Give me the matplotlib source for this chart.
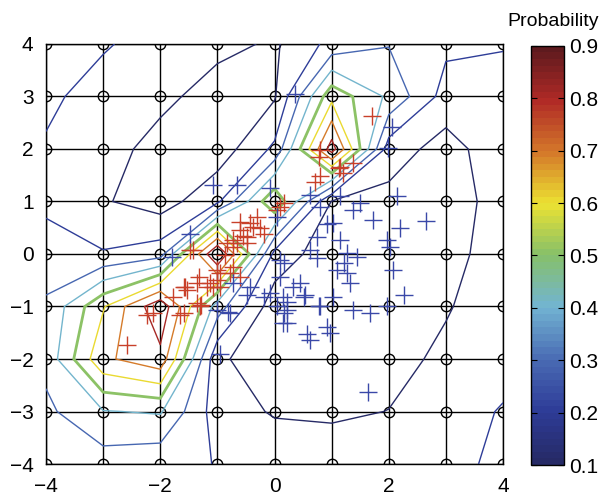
import numpy as np
import matplotlib
matplotlib.use('Agg')
import matplotlib.pyplot as plt
from matplotlib.colors import LinearSegmentedColormap, Normalize
from matplotlib.cm import ScalarMappable

plt.rcParams['font.family'] = ['Liberation Sans', 'DejaVu Sans']

# grid coordinates
grid_x = [-4, -3, -2, -1, 0, 1, 2, 3, 4]
grid_y = [4, 3, 2, 1, 0, -1, -2, -3, -4]

# probability on the grid, rows from y=4 (top) to y=-4 (bottom)
prob_y4 = [0.25, 0.21, 0.16, 0.13, 0.086, 0.23, 0.295, 0.22, 0.21]
prob_y3 = [0.22, 0.16, 0.13, 0.05, 0.09, 0.57, 0.38, 0.16, 0.14]
prob_y2 = [0.19, 0.15, 0.056, 0.04, 0.22, 0.85, 0.15, 0.059, 0.164]
prob_y1 = [0.17, 0.11, 0.05, 0.18, 0.59, 0.095, 0.07, 0.06, 0.133]
prob_y0 = [0.264, 0.208, 0.255, 0.92, 0.17, 0.03, 0.03, 0.06, 0.155]
prob_ym1 = [0.31, 0.59, 0.88, 0.35, 0.04, 0.02, 0.03, 0.09, 0.167]
prob_ym2 = [0.33, 0.68, 0.77, 0.12, 0.03, 0.03, 0.06, 0.125, 0.15]
prob_ym3 = [0.277, 0.395, 0.41, 0.15, 0.09, 0.08, 0.102, 0.14, 0.21]
prob_ym4 = [0.24, 0.25, 0.227, 0.197, 0.17, 0.17, 0.15, 0.16, 0.23]

levels = [0.1, 0.2, 0.3, 0.4, 0.5, 0.6, 0.7, 0.8]
cbar_ticks = [0.1, 0.2, 0.3, 0.4, 0.5, 0.6, 0.7, 0.8, 0.9]
x_ticks = [-4, -2, 0, 2, 4]
y_ticks = [-4, -3, -2, -1, 0, 1, 2, 3, 4]

red_x = [-2.59, -2.24, -2.12, -1.65, -1.59, -1.77, -1.54, -1.3, -1.28, -1.07, -1.01, -0.72,
         -0.6, -0.49, -1.42, -0.83, -0.72, -0.78, -0.95, -1.18, -1.59, -1.36, -1.48, -1.33,
         -1.57, -1.36, -1.01, -0.86, -0.66, -0.6, -0.43, -0.31, -0.19, -0.48, -0.37, -0.72,
         -0.95, -1.13, 0.1, 0.16, 0.04, 0.8, 1.15, 1.38, 1.7, 0.8, 1.12, 0.71, 0.77, 1.2,
         -0.6, -0.55, -0.25]
red_y = [-1.74, -1.16, -1.13, -1.16, -1.13, -0.81, -0.69, -1.0, -0.97, -0.62, -0.3, -0.24,
         -0.43, 0.33, 0.08, 0.2, 0.27, -0.37, -0.62, -0.62, -0.62, -0.56, 0.08, -0.43,
         -0.62, -0.94, -0.5, -0.01, 0.2, 0.46, 0.59, 0.71, 0.39, 0.2, 0.52, 0.14,
         -0.37, -0.56, 0.9, 0.97, 0.84, 1.48, 1.66, 1.73, 2.62, 1.98, 1.63, 1.38, 1.85, 1.54,
         0.6, 0.35, 0.5]

blue_x = [0.36, 2.05, 1.99, -1.07, -0.66, -0.08, -1.48, -1.8, 0.62, 0.8, 1.15, 1.03, 0.74,
          0.62, 1.15, 1.27, 1.21, 1.44, 1.38, 1.5, 1.73, 2.14, 2.66, 2.2, 2.02, 2.08, 2.26,
          1.27, 1.32, 0.16, 0.1, 0.33, 0.51, 0.16, 0.04, 0.22, 0.57, 0.92, 1.03, 0.8, 1.38,
          1.67, -0.43, -0.78, -0.72, -0.95, 1.64, 0.04, 0.92, 1.97, 0.74, 1.09, 0.45, -0.08,
          0.21, 0.53, 0.77, 1.97, 0.62, 0.97, -0.49, -0.19, 0.1, 0.15, 0.21, 0.15, -0.81,
          -1.01]
blue_y = [3.05, 2.42, 2.01, 1.32, 1.32, 1.25, 0.39, -0.05, 1.13, 0.9, 1.1, 0.59, 0.33,
          0.08, 0.27, 0.01, -0.18, -0.05, 0.84, 0.97, 0.65, 1.1, 0.62, 0.49, 0.14, -0.31, -0.78,
          -0.37, -0.56, -0.18, -0.43, -0.62, -0.82, -1.13, -1.0, -1.32, -1.52, -1.39, -0.82,
          -1.0, -1.07, -1.13, -0.62, -1.13, -0.56, -1.9, -2.62, 0.71, 0.58, 0.27, -0.08, -0.3,
          -0.56, -0.75, -0.91, -0.78, -1.0, -1.0, -1.64, -1.51, -0.78, -0.81, -0.11, -0.81,
          -1.07, -1.32, -1.1, -1.07]

cmap_colors = ['#262a66', '#2e3c98', '#4a6cb4', '#72b4d2', '#86c06a',
               '#ece232', '#d4782a', '#b02a26', '#5e1a1e']
cmap = LinearSegmentedColormap.from_list('prob', cmap_colors, N=64)
norm = Normalize(vmin=0.1, vmax=0.9)

X, Y = np.meshgrid(grid_x, grid_y)
Z = np.array([prob_y4, prob_y3, prob_y2, prob_y1, prob_y0,
              prob_ym1, prob_ym2, prob_ym3, prob_ym4])

fig = plt.figure(figsize=(5.99, 4.94), dpi=100)
ax = fig.add_axes([0.0768, 0.0607, 0.763, 0.8503])
cax = fig.add_axes([0.8865, 0.0587, 0.0551, 0.8483])

for gx in grid_x:
    ax.axvline(gx, color='black', lw=1.0, zorder=1)
for gy in grid_y:
    ax.axhline(gy, color='black', lw=1.0, zorder=1)
ax.plot(X.ravel(), Y.ravel(), 'o', mfc='none', mec='black', ms=7.5, mew=1.0, zorder=2)

lws = [2.0 if abs(l - 0.5) < 1e-9 else 1.0 for l in levels]
ax.contour(X, Y, Z, levels=levels, cmap=cmap, norm=norm, linewidths=lws, zorder=3)

ax.plot(red_x, red_y, '+', color='#c8402a', ms=13, mew=1.0, zorder=4)
ax.plot(blue_x, blue_y, '+', color='#3a48a8', ms=13, mew=1.0, zorder=4)

ax.set_xlim(-4, 4)
ax.set_ylim(-4, 4)
ax.set_xticks(x_ticks)
ax.set_yticks(y_ticks)
ax.tick_params(direction='in', length=4, labelsize=15, pad=9)
for s in ax.spines.values():
    s.set_linewidth(1.0)

sm = ScalarMappable(norm=norm, cmap=cmap)
cb = fig.colorbar(sm, cax=cax, ticks=cbar_ticks)
cb.ax.tick_params(direction='in', length=4, labelsize=15, left=True, right=True, pad=4)
cb.ax.set_yticklabels([f'{t:.1f}' for t in cbar_ticks])
cb.outline.set_linewidth(1.0)
fig.text(0.924, 0.957, 'Probability', ha='center', va='center', fontsize=14)

fig.savefig('out.png', dpi=100)
